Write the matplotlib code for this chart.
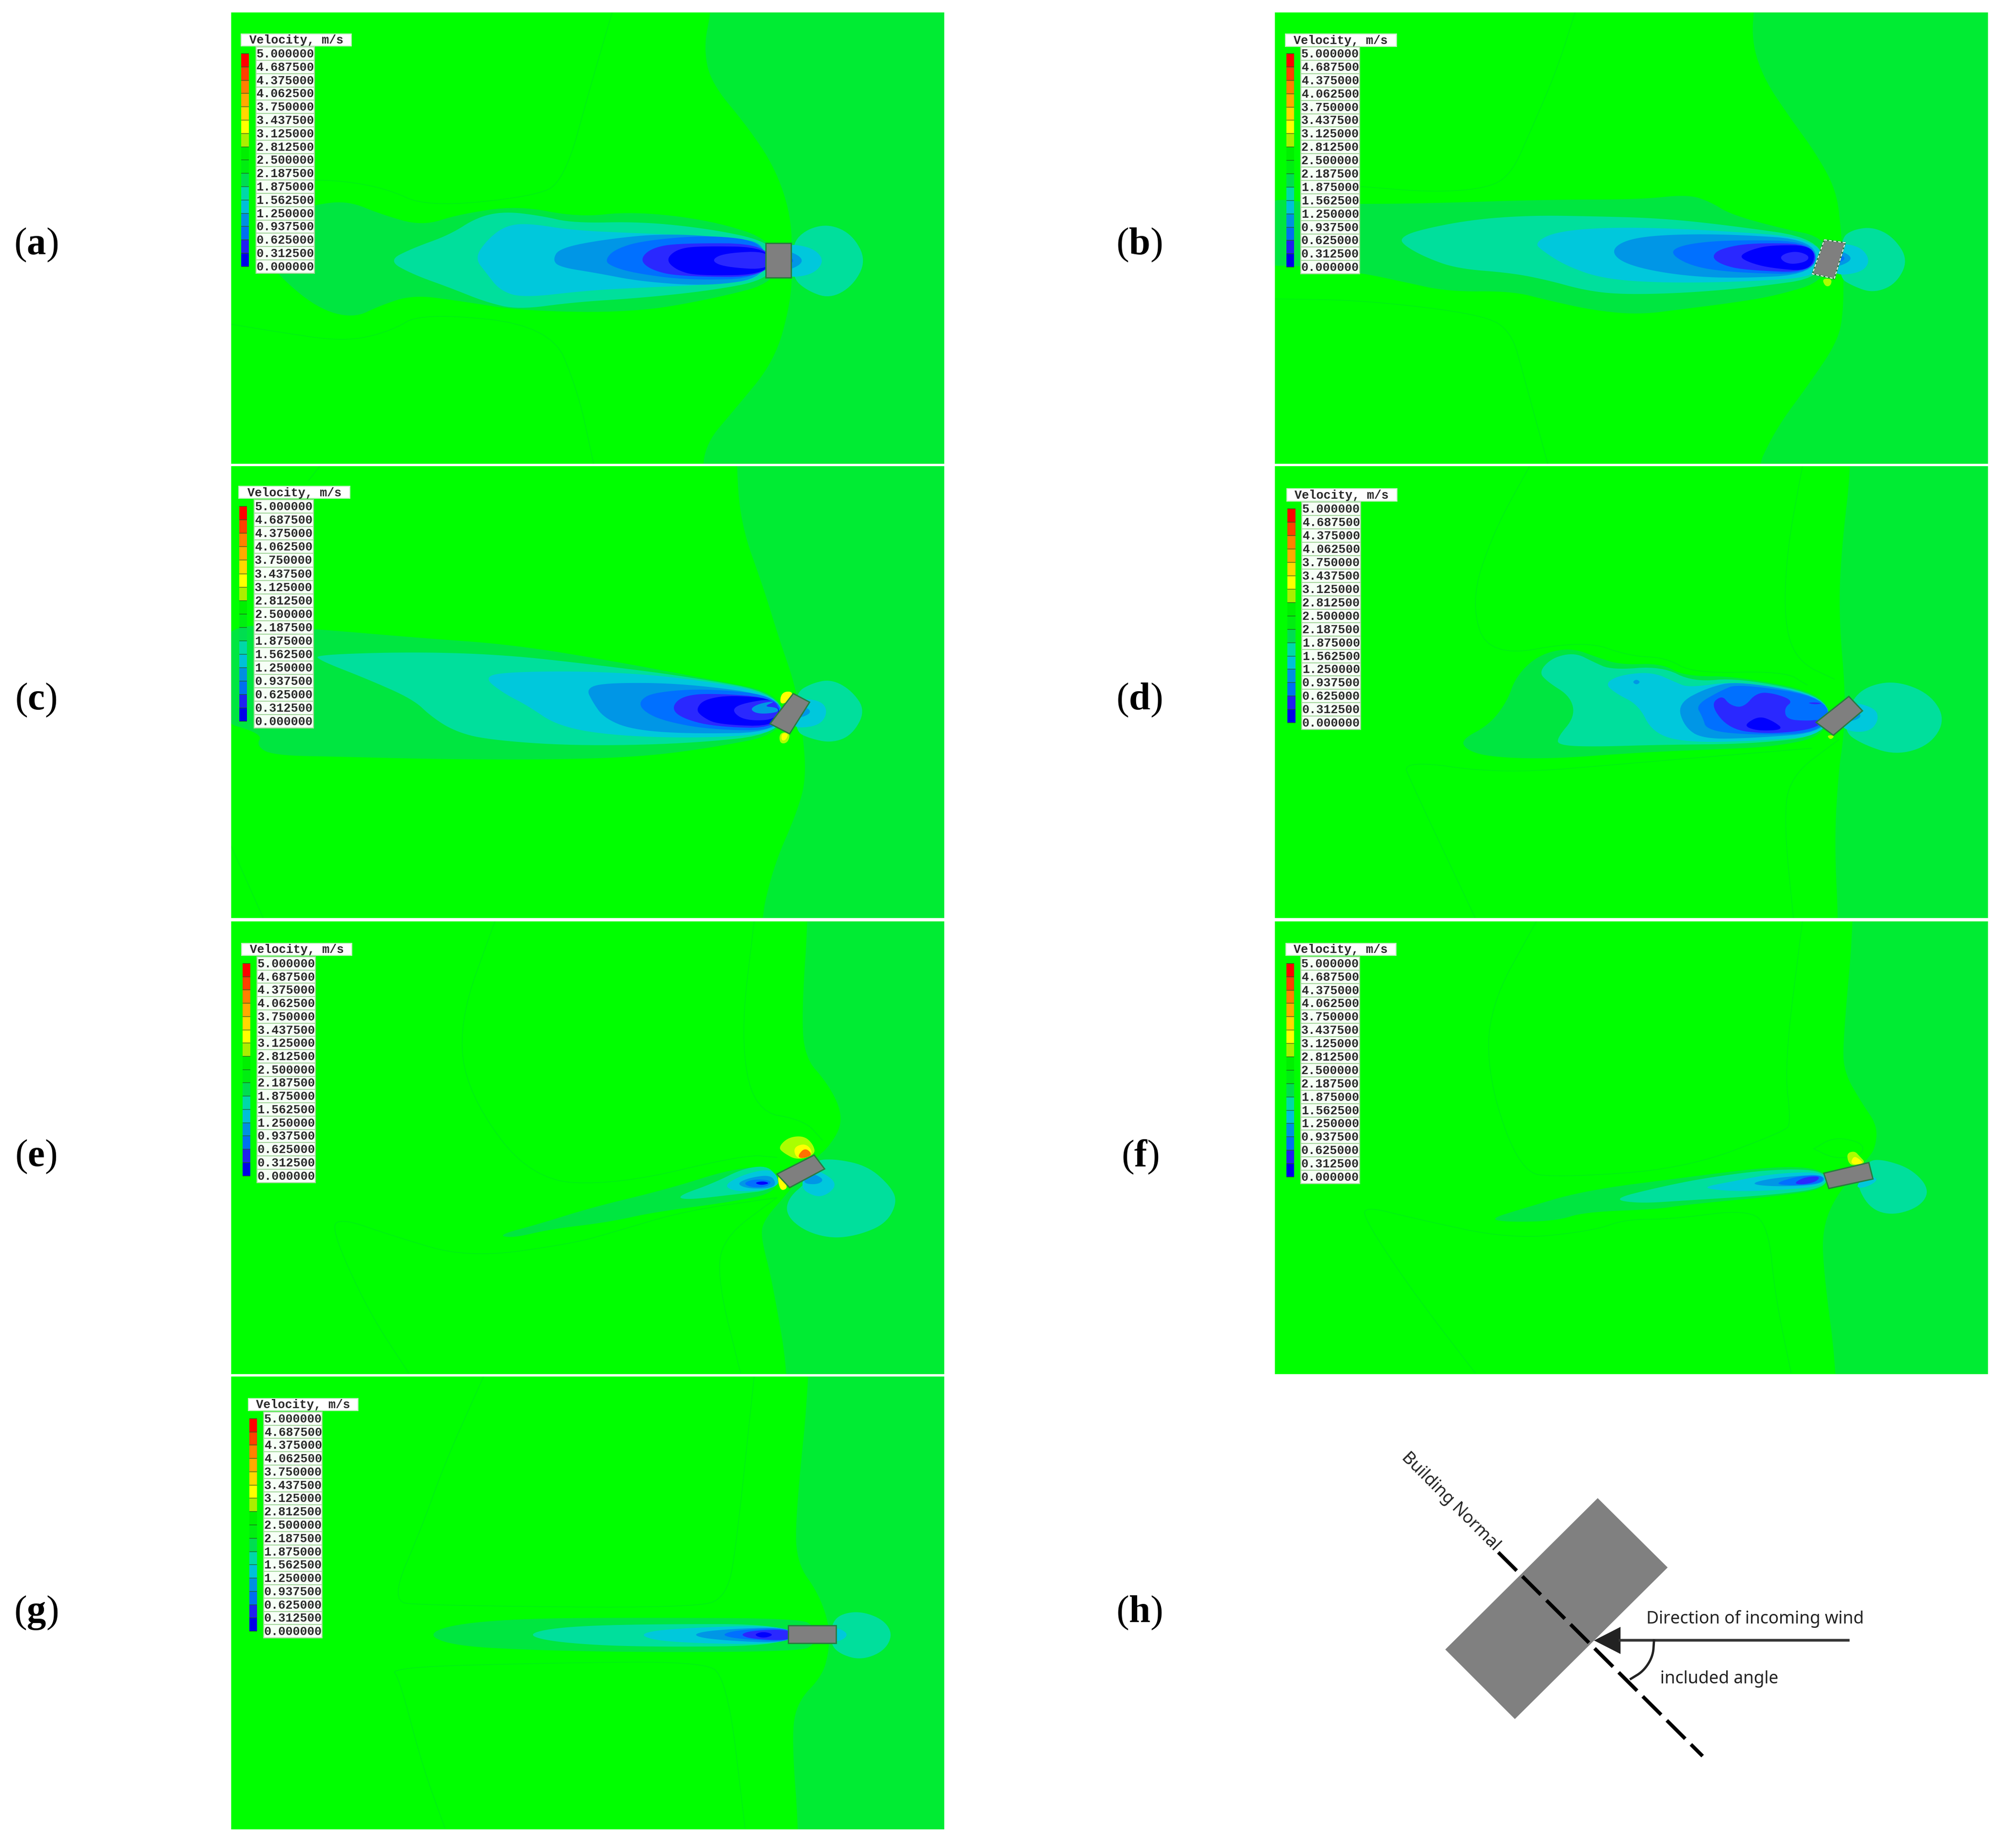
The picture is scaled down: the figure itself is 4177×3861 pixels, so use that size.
import matplotlib
matplotlib.use("Agg")
import numpy as np
import matplotlib.pyplot as plt
from matplotlib.colors import ListedColormap
from matplotlib.patches import Rectangle, Polygon

W, H = 4177, 3862

# contour colours
BG = "#00FF00"
G2 = "#00EC33"
G1 = "#00E640"
T = "#00DF9C"
C = "#00C8DC"
S = "#0096E6"
B = "#0070FF"
I = "#2A28FF"
D = "#0000FF"
LIME = "#AAFF00"
YEL = "#FFFF00"
AMB = "#FFC800"
ORG = "#FF7000"

LEGEND_VALUES = ["5.000000", "4.687500", "4.375000", "4.062500", "3.750000", "3.437500",
                 "3.125000", "2.812500", "2.500000", "2.187500", "1.875000", "1.562500",
                 "1.250000", "0.937500", "0.625000", "0.312500", "0.000000"]
LEGEND_COLORS = ["#FF0000", "#FF4000", "#FF8000", "#FFAA00", "#FFD800", "#FFFF00", "#AAEE00",
                 "#00F000", "#00EE10", "#00DD50", "#00D8A8", "#00C0D8", "#0090E0", "#0070F0",
                 "#2020F0", "#0000E8"]

# panel a, coordinates of the first crop
A_RIGHT = [(1050, -40), (1050, 11), (1035, 130), (1050, 250), (1130, 400), (1190, 540), (1225, 700), (1228, 860),
           (1225, 1000), (1190, 1200), (1100, 1370), (1040, 1480), (1030, 1600)]
A_BANDS = [
    (G1, [(1190, 790), (1050, 720), (880, 690), (760, 710), (630, 670), (500, 700), (420, 740), (330, 700), (260, 655),
          (190, 665), (130, 700), (60, 800), (100, 900), (190, 1020), (270, 1055), (330, 1010), (400, 975), (500, 995),
          (640, 1030), (880, 1035), (1050, 990), (1200, 930)]),
    (T, [(345, 858), (400, 815), (480, 770), (540, 710), (600, 690), (680, 705), (750, 730), (900, 725), (1050, 750),
         (1170, 790), (1200, 850), (1170, 925), (1050, 960), (900, 985), (750, 1000), (630, 1025), (560, 1000),
         (480, 950), (400, 905)]),
    (C, [(535, 850), (560, 790), (600, 740), (650, 730), (750, 755), (900, 765), (1050, 775), (1170, 800), (1170, 920),
         (1050, 940), (900, 950), (780, 960), (640, 985), (590, 960), (560, 900)]),
    (S, [(705, 855), (720, 815), (820, 785), (950, 765), (1100, 780), (1170, 800), (1170, 915), (1050, 945), (900, 930),
         (800, 900), (720, 880)]),
    (B, [(820, 855), (840, 820), (900, 790), (1050, 770), (1170, 795), (1170, 918), (1000, 925), (880, 900), (830, 875)]),
    (I, [(895, 855), (920, 815), (980, 798), (1180, 800), (1180, 915), (980, 912), (920, 890)]),
    (D, [(952, 855), (975, 820), (1020, 808), (1180, 812), (1180, 905), (1020, 910), (975, 890)]),
    (I, [(1050, 857), (1080, 832), (1180, 825), (1180, 890), (1080, 880)]),
    (T, [(1228, 800), (1260, 750), (1310, 733), (1360, 770), (1390, 858), (1360, 945), (1310, 988), (1260, 960), (1228, 915)]),
    (C, [(1200, 800), (1270, 810), (1300, 858), (1270, 910), (1200, 915)]),
    (S, [(1200, 810), (1265, 858), (1200, 905)]),
    (B, [(1200, 830), (1240, 858), (1200, 885)]),
]
A_BUILDING = [(1170, 798), (1226, 798), (1226, 916), (1170, 916)]
A_LINES = [[(835, 11), (790, 250), (730, 590), (660, 640), (430, 675), (340, 610), (220, 580), (100, 590)],
           [(3, 1075), (100, 1100), (250, 1135), (350, 1100), (420, 1035), (700, 1080), (760, 1300), (795, 1555)]]

# panel b
B_RIGHT = [(1055, -40), (1048, 100), (1075, 230), (1130, 360), (1190, 490), (1235, 620), (1245, 760), (1250, 880),
           (1250, 1050), (1235, 1150), (1170, 1300), (1100, 1450), (1050, 1620)]
B_BANDS = [
    (G1, [(-40, 640), (100, 665), (300, 665), (600, 650), (800, 650), (910, 632), (960, 660), (1000, 700), (1100, 745),
          (1220, 785), (1215, 930), (1100, 985), (1000, 1010), (900, 1030), (800, 1050), (700, 1035), (600, 1000),
          (520, 968), (380, 970), (280, 935), (190, 905), (60, 880), (-40, 880)]),
    (T, [(275, 785), (310, 758), (430, 720), (560, 705), (700, 708), (850, 715), (1000, 740), (1200, 785), (1210, 920),
         (1050, 955), (900, 975), (760, 980), (680, 965), (600, 930), (520, 905), (400, 890), (330, 850), (285, 810)]),
    (C, [(570, 800), (620, 760), (750, 745), (950, 755), (1200, 785), (1210, 915), (1050, 935), (850, 940), (720, 925),
         (640, 880), (590, 830)]),
    (S, [(738, 830), (770, 790), (850, 772), (1000, 770), (1190, 790), (1190, 910), (1000, 925), (870, 910), (770, 875)]),
    (B, [(865, 835), (900, 805), (1000, 790), (1190, 795), (1185, 910), (1020, 905), (920, 885)]),
    (I, [(960, 848), (980, 820), (1050, 800), (1190, 805), (1185, 905), (1030, 895), (980, 875)]),
    (D, [(1020, 848), (1045, 825), (1090, 808), (1190, 810), (1180, 900), (1090, 888), (1045, 870)]),
    (I, [(1110, 850), (1125, 835), (1150, 830), (1175, 845), (1170, 865), (1140, 875), (1120, 868)]),
    (T, [(1245, 785), (1270, 755), (1315, 745), (1360, 780), (1393, 860), (1365, 945), (1315, 975), (1270, 950), (1240, 920)]),
    (C, [(1225, 800), (1285, 810), (1310, 860), (1290, 905), (1220, 915)]),
    (S, [(1225, 815), (1280, 855), (1220, 895)]),
    (B, [(1225, 830), (1262, 855), (1220, 880)]),
    (LIME, [(1203, 925), (1225, 925), (1222, 950), (1210, 952)]),
]
B_BUILDING = [(1208, 790), (1254, 800), (1230, 925), (1182, 908)]
B_LINES = [[(660, 0), (620, 200), (560, 420), (520, 560), (470, 610), (350, 625), (190, 605)],
           [(0, 995), (200, 1000), (460, 1050), (520, 1110), (545, 1250), (600, 1568)]]

# panel c
C_RIGHT = [(1110, -40), (1120, 200), (1170, 420), (1205, 600), (1240, 760), (1255, 900), (1265, 1080), (1245, 1200),
           (1190, 1400), (1160, 1620)]
C_BANDS = [
    (G1, [(-40, 545), (180, 565), (400, 595), (620, 620), (850, 680), (1050, 740), (1210, 790), (1215, 930), (1050, 980),
          (900, 1010), (700, 1020), (450, 1018), (250, 1010), (90, 1005), (55, 970), (70, 930), (-40, 880)]),
    (T, [(190, 672), (190, 655), (400, 645), (600, 655), (800, 690), (1000, 730), (1210, 790), (1215, 930), (1000, 965),
         (750, 972), (560, 950), (490, 920), (440, 870), (400, 810), (300, 740)]),
    (C, [(555, 735), (600, 715), (800, 712), (1000, 735), (1210, 795), (1215, 925), (1050, 945), (850, 938), (720, 905),
         (650, 830), (600, 790)]),
    (S, [(780, 770), (830, 752), (1000, 755), (1210, 800), (1210, 925), (1000, 930), (880, 915), (820, 875), (795, 820)]),
    (B, [(897, 815), (930, 785), (1050, 772), (1210, 800), (1210, 920), (1050, 915), (950, 885), (905, 850)]),
    (I, [(968, 840), (990, 800), (1050, 788), (1205, 805), (1205, 912), (1060, 905), (990, 875)]),
    (D, [(1022, 845), (1040, 810), (1100, 795), (1205, 810), (1205, 905), (1070, 898), (1035, 870)]),
    (I, [(1100, 850), (1120, 825), (1200, 805), (1205, 880), (1130, 885)]),
    (S, [(1140, 845), (1160, 825), (1200, 815), (1170, 835), (1200, 838), (1205, 855), (1160, 862)]),
    (T, [(1240, 790), (1275, 755), (1320, 740), (1365, 780), (1395, 850), (1365, 935), (1320, 962), (1270, 945), (1240, 920)]),
    (C, [(1240, 805), (1300, 815), (1312, 860), (1290, 905), (1225, 910)]),
    (S, [(1240, 820), (1285, 855), (1230, 885)]),
    (YEL, [(1210, 785), (1236, 782), (1230, 815), (1206, 830)]),
    (LIME, [(1206, 925), (1230, 925), (1224, 962), (1206, 964)]),
    (YEL, [(1210, 928), (1226, 928), (1220, 952), (1210, 954)]),
]
C_BUILDING = [(1236, 790), (1272, 820), (1228, 930), (1185, 895)]
C_LINES = [[(195, 0), (170, 50)], [(0, 1320), (70, 1568)]]

# panel d
D_RIGHT = [(1270, -40), (1245, 300), (1240, 520), (1255, 800), (1250, 950), (1240, 1050), (1230, 1300), (1240, 1620)]
D_BANDS = [
    (G1, [(410, 950), (470, 900), (510, 820), (530, 730), (580, 655), (650, 630), (710, 665), (760, 690), (850, 685),
          (900, 730), (1020, 730), (1220, 795), (1215, 935), (1100, 975), (950, 985), (800, 995), (600, 1018), (470, 1010),
          (420, 985)]),
    (T, [(580, 715), (610, 665), (660, 648), (700, 680), (740, 708), (850, 695), (920, 750), (1020, 735), (1220, 800),
         (1215, 935), (1050, 965), (850, 968), (700, 975), (625, 970), (620, 945), (660, 870), (650, 800), (600, 750)]),
    (C, [(725, 755), (760, 725), (830, 715), (880, 750), (910, 770), (1020, 745), (1220, 800), (1215, 935), (1060, 955),
         (900, 960), (830, 925), (800, 830), (750, 790)]),
    (S, [(885, 825), (950, 770), (1020, 745), (1220, 805), (1215, 925), (1050, 945), (940, 948), (900, 905)]),
    (B, [(925, 830), (980, 780), (1020, 755), (1220, 805), (1210, 925), (1060, 935), (950, 920), (940, 870)]),
    (I, [(957, 830), (983, 795), (1000, 830), (1030, 840), (1060, 785), (1100, 790), (1140, 815), (1120, 840), (1125, 880),
         (1170, 885), (1200, 880), (1200, 900), (1160, 920), (1080, 930), (1000, 915)]),
    (D, [(1035, 895), (1065, 868), (1095, 885), (1120, 915), (1070, 920), (1040, 910)]),
    (I, [(1170, 822), (1190, 820), (1205, 825), (1185, 828)]),
    (S, [(786, 750), (795, 740), (804, 750), (795, 760)]),
    (T, [(1265, 820), (1300, 765), (1365, 745), (1440, 790), (1475, 880), (1440, 970), (1365, 1005), (1290, 965), (1250, 920)]),
    (C, [(1260, 815), (1320, 840), (1328, 880), (1310, 920), (1270, 925), (1240, 900)]),
    (S, [(1260, 830), (1298, 870), (1250, 895)]),
    (LIME, [(1213, 935), (1232, 935), (1222, 952)]),
]
D_BUILDING = [(1262, 800), (1292, 850), (1228, 935), (1190, 890)]
D_LINES = [[(560, 0), (480, 230), (430, 470), (470, 665), (680, 605), (780, 660), (860, 665), (920, 720), (1120, 712), (1170, 760)],
           [(1160, 0), (1125, 300), (1120, 550), (1150, 680), (1230, 740)],
           [(1240, 950), (1130, 1080), (1120, 1250), (1140, 1568)],
           [(440, 1568), (300, 1100), (280, 1020), (500, 1070), (800, 1030), (1180, 980)]]

# panel e
E_RIGHT = [(1270, -40), (1255, 300), (1260, 470), (1310, 560), (1340, 650), (1340, 720), (1310, 790), (1290, 815),
           (1220, 950), (1170, 1040), (1165, 1100), (1190, 1250), (1230, 1620)]
E_BANDS = [
    (G1, [(585, 1090), (680, 1050), (790, 995), (960, 930), (1100, 860), (1190, 850), (1205, 940), (1100, 975), (930, 1010),
          (830, 1045), (700, 1070), (620, 1100)]),
    (T, [(980, 955), (1060, 910), (1130, 855), (1190, 850), (1205, 930), (1100, 950), (1000, 968)]),
    (C, [(1080, 920), (1125, 880), (1180, 860), (1200, 880), (1205, 925), (1120, 942)]),
    (S, [(1110, 912), (1140, 890), (1190, 880), (1200, 925), (1140, 930)]),
    (B, [(1125, 910), (1150, 895), (1190, 900), (1180, 922), (1145, 925)]),
    (D, [(1150, 908), (1170, 902), (1185, 910), (1165, 917)]),
    (T, [(1280, 830), (1330, 825), (1400, 850), (1450, 920), (1465, 975), (1440, 1050), (1380, 1090), (1320, 1102), (1260, 1075),
         (1220, 1020), (1225, 960), (1270, 900)]),
    (C, [(1270, 850), (1320, 890), (1330, 920), (1310, 950), (1285, 958), (1250, 925)]),
    (S, [(1270, 870), (1305, 895), (1290, 915), (1255, 910)]),
    (LIME, [(1203, 785), (1225, 750), (1260, 745), (1280, 775), (1285, 810), (1245, 830), (1215, 805)]),
    (YEL, [(1235, 785), (1265, 770), (1282, 810), (1245, 830)]),
    (ORG, [(1245, 815), (1262, 785), (1280, 812), (1255, 825)]),
    (YEL, [(1203, 880), (1212, 895), (1225, 925), (1210, 937), (1203, 910)]),
]
E_BUILDING = [(1282, 812), (1305, 860), (1228, 925), (1200, 878)]
E_LINES = [[(580, 0), (500, 350), (520, 600), (660, 900), (850, 915), (1130, 810), (1200, 820)],
           [(1150, 0), (1120, 400), (1150, 660), (1260, 690), (1300, 760)],
           [(390, 1568), (300, 1350), (220, 1070), (240, 1030), (350, 1090), (520, 1170), (750, 1120), (850, 1075), (1000, 1005), (1200, 960)],
           [(1200, 960), (1080, 1100), (1070, 1250), (1120, 1568)]]

# panel f
F_RIGHT = [(1275, -40), (1250, 400), (1250, 520), (1290, 630), (1325, 710), (1320, 790), (1300, 830), (1235, 950),
           (1205, 1060), (1205, 1200), (1240, 1620)]
F_BANDS = [
    (G1, [(470, 1035), (540, 1000), (680, 935), (900, 890), (1100, 850), (1210, 860), (1215, 930), (1100, 955), (900, 985),
          (840, 1000), (680, 1010), (620, 1040), (520, 1045)]),
    (T, [(740, 965), (840, 925), (950, 890), (1100, 860), (1210, 865), (1215, 925), (1100, 950), (900, 970), (800, 980)]),
    (C, [(935, 925), (1000, 905), (1100, 875), (1210, 870), (1210, 920), (1100, 935), (1000, 938)]),
    (S, [(1040, 912), (1100, 890), (1210, 878), (1205, 915), (1100, 922)]),
    (B, [(1095, 912), (1150, 885), (1205, 880), (1205, 910), (1140, 918)]),
    (I, [(1140, 910), (1165, 888), (1200, 885), (1190, 905), (1160, 915)]),
    (T, [(1305, 830), (1340, 828), (1400, 860), (1440, 930), (1420, 990), (1360, 1022), (1310, 1000), (1280, 920), (1290, 880)]),
    (C, [(1300, 880), (1330, 895), (1300, 925), (1275, 925)]),
    (LIME, [(1260, 835), (1258, 805), (1275, 798), (1285, 815), (1300, 840), (1270, 850)]),
    (YEL, [(1265, 845), (1272, 815), (1285, 825), (1295, 842)]),
]
F_BUILDING = [(1207, 875), (1306, 838), (1315, 895), (1218, 928)]
F_LINES = [[(575, 0), (470, 300), (470, 560), (540, 870), (620, 890), (900, 860), (1120, 730), (1135, 700), (1120, 500), (1160, 0)],
           [(440, 1568), (300, 1280), (195, 1030), (200, 990), (300, 1030), (520, 1105), (700, 1075), (770, 1035), (870, 1035), (1040, 1000),
            (1085, 1060), (1100, 1300), (1135, 1568)],
           [(1185, 790), (1230, 748), (1295, 770), (1290, 815), (1230, 825), (1185, 790)]]

# panel g
G_RIGHT = [(1275, -40), (1240, 500), (1245, 650), (1290, 750), (1315, 860), (1315, 950), (1300, 1040), (1245, 1130),
           (1232, 1250), (1250, 1620)]
G_BANDS = [
    (G1, [(430, 897), (490, 860), (650, 840), (900, 838), (1250, 840), (1285, 870), (1285, 930), (1250, 955), (900, 958),
          (650, 950), (490, 935)]),
    (T, [(645, 897), (720, 870), (900, 860), (1230, 860), (1230, 935), (900, 940), (720, 925)]),
    (C, [(890, 897), (960, 875), (1235, 862), (1235, 932), (960, 925)]),
    (S, [(1010, 897), (1060, 880), (1235, 868), (1235, 928), (1060, 915)]),
    (B, [(1075, 897), (1115, 880), (1235, 872), (1235, 922), (1115, 912)]),
    (I, [(1118, 897), (1145, 882), (1235, 878), (1235, 918), (1145, 912)]),
    (D, [(1148, 897), (1170, 885), (1195, 897), (1170, 910)]),
    (T, [(1320, 860), (1340, 825), (1385, 815), (1435, 845), (1455, 897), (1435, 955), (1385, 985), (1340, 965), (1318, 930)]),
    (C, [(1320, 870), (1345, 880), (1356, 897), (1345, 915), (1320, 925)]),
]
G_BUILDING = [(1225, 865), (1330, 865), (1330, 927), (1225, 927)]
G_LINES = [[(555, 0), (470, 300), (420, 520), (350, 780), (420, 795), (1030, 805), (1090, 760), (1110, 600), (1150, 0)],
           [(470, 1568), (420, 1350), (370, 1050), (350, 1010), (700, 995), (1030, 990), (1090, 1040), (1130, 1568)]]

# legend boxes: title x0, x1, y0, y1, bar x0, x1, rows x0, x1, first row y, last row y
A_LEGEND = (25, 265, 85, 125, 25, 42, 57, 185, 152, 878)
B_LEGEND = (23, 267, 75, 118, 25, 42, 57, 186, 143, 885)
C_LEGEND = (17, 261, 70, 112, 18, 35, 50, 181, 140, 887)
D_LEGEND = (26, 268, 78, 122, 27, 45, 59, 188, 148, 892)
E_LEGEND = (23, 265, 76, 118, 25, 42, 57, 185, 146, 884)
F_LEGEND = (24, 266, 76, 118, 25, 42, 57, 186, 146, 888)
G_LEGEND = (38, 279, 76, 118, 40, 57, 72, 200, 146, 885)


def chaikin(pts, closed=True, n=3):
    p = np.array(pts, dtype=float)
    for _ in range(n):
        q = np.roll(p, -1, axis=0) if closed else p[1:]
        a = p if closed else p[:-1]
        cut = np.empty((len(a) * 2, 2))
        cut[0::2] = 0.75 * a + 0.25 * q
        cut[1::2] = 0.25 * a + 0.75 * q
        p = cut if closed else np.vstack([p[0], cut, p[-1]])
    return p


def draw_legend(ax, pos):
    tx0, tx1, ty0, ty1, bx0, bx1, rx0, rx1, first, last = pos
    ys = np.linspace(first, last, len(LEGEND_VALUES))
    step = ys[1] - ys[0]
    cmap = ListedColormap(LEGEND_COLORS)
    cells = np.arange(len(LEGEND_COLORS)).reshape(-1, 1)
    ax.pcolormesh([bx0, bx1], ys, cells, cmap=cmap, vmin=-0.5, vmax=len(LEGEND_COLORS) - 0.5, zorder=6)
    ax.hlines(ys, bx0, bx1, color="#1F5A1F", lw=1.4, alpha=0.6, zorder=7)
    ax.add_patch(Rectangle((tx0, ty0), tx1 - tx0, ty1 - ty0, fc="white", ec="#C8F0C8", lw=1.5, zorder=6))
    ax.text((tx0 + tx1) / 2, (ty0 + ty1) / 2, "Velocity, m/s", ha="center", va="center", color="#2A2A2A",
            family="Liberation Mono", weight="bold", fontsize=18.2, zorder=8)
    for y, lab in zip(ys, LEGEND_VALUES):
        ax.add_patch(Rectangle((rx0, y - step / 2), rx1 - rx0, step, fc="#F6FFF6", ec="#A8D8A0", lw=1.5, zorder=6))
        ax.text((rx0 + rx1) / 2, y, lab, ha="center", va="center", color="#2A2A2A",
                family="Liberation Mono", weight="bold", fontsize=18.2, zorder=8)


def draw_panel(box, xlim, ylim, right, bands, building, lines, legend, dashed=False):
    x, y, w, h = box
    ax = fig.add_axes([x / W, 1 - (y + h) / H, w / W, h / H])
    ax.set_xlim(*xlim)
    ax.set_ylim(*ylim)
    ax.axis("off")
    ax.add_patch(Rectangle((xlim[0], ylim[1]), xlim[1] - xlim[0], ylim[0] - ylim[1], fc=BG, ec="none", zorder=0))
    # carry the boundary far outside the panel so the smoothing only rounds clipped corners
    region = [(4000, -800), (right[0][0], -800)] + right + [(right[-1][0], 2400), (4000, 2400)]
    ax.fill(*chaikin(region).T, color=G2, lw=0, zorder=1)
    for line in lines:
        ax.plot(*chaikin(line, closed=False).T, color="#00F012", lw=1.2, zorder=2)
    for color, pts in bands:
        ax.fill(*chaikin(pts).T, color=color, lw=0, zorder=3)
    ax.add_patch(Polygon(building, closed=True, fc="#7F7F7F", ec="#2A7A40", lw=2, zorder=5))
    if dashed:
        ax.add_patch(Polygon(building, closed=True, fc="none", ec="white", lw=1.4, ls=(0, (3, 2)), zorder=5))
    draw_legend(ax, legend)
    return ax


plt.rcParams["mathtext.fontset"] = "custom"
plt.rcParams["mathtext.bf"] = "Liberation Serif:bold"

fig = plt.figure(figsize=(W / 100, H / 100), dpi=100, facecolor="white")

draw_panel((483, 27, 1490, 943), (3, 1560), (1551, 11.4), A_RIGHT, A_BANDS, A_BUILDING, A_LINES, A_LEGEND)
draw_panel((2664, 27, 1490, 943), (0, 1568), (1568, 0), B_RIGHT, B_BANDS, B_BUILDING, B_LINES, B_LEGEND, dashed=True)
draw_panel((483, 975, 1490, 944), (0, 1568), (1570, 0), C_RIGHT, C_BANDS, C_BUILDING, C_LINES, C_LEGEND)
draw_panel((2664, 975, 1490, 944), (0, 1568), (1570, 0), D_RIGHT, D_BANDS, D_BUILDING, D_LINES, D_LEGEND)
draw_panel((483, 1926, 1490, 946), (0, 1568), (1573, 0), E_RIGHT, E_BANDS, E_BUILDING, E_LINES, E_LEGEND)
draw_panel((2664, 1926, 1490, 946), (0, 1568), (1573, 0), F_RIGHT, F_BANDS, F_BUILDING, F_LINES, F_LEGEND)
draw_panel((483, 2877, 1490, 946), (0, 1568), (1573, 0), G_RIGHT, G_BANDS, G_BUILDING, G_LINES, G_LEGEND)

# panel h sketch, coordinates of its crop
H_BUILDING = [(700, 320), (890, 627), (475, 1298), (286, 990)]
H_NORMAL = [(430, 560), (985, 1462)]
H_WIND = [(760, 950), (1380, 950)]
H_HEAD = [(690, 950), (762, 890), (762, 1010)]
H_ARC = [(853, 950), (850, 1020), (825, 1085), (790, 1120)]

axh = fig.add_axes([2800 / W, 1 - (2980 + 740) / H, 1200 / W, 740 / H])
axh.set_xlim(0, 1560)
axh.set_ylim(1568, 0)
axh.axis("off")
axh.add_patch(Polygon(H_BUILDING, closed=True, fc="#808080", ec="none"))
xs, ys = zip(*H_NORMAL)
axh.plot(xs, ys, color="black", lw=5.5, dashes=(7.1, 2.2), dash_capstyle="butt")
xs, ys = zip(*H_WIND)
axh.plot(xs, ys, color="#333333", lw=4)
axh.add_patch(Polygon(H_HEAD, closed=True, fc="#222222", ec="none"))
axh.plot(*chaikin(H_ARC, closed=False).T, color="#222222", lw=3.5)
axh.text(1128, 852, "Direction of incoming wind", ha="center", va="center", family="Noto Sans", fontsize=25.8, color="#222222")
axh.text(1030, 1118, "included angle", ha="center", va="center", family="Noto Sans", fontsize=25.8, color="#222222")
axh.text(300, 333, "Building Normal", ha="center", va="center", rotation=-45, rotation_mode="anchor",
         family="Noto Sans", fontsize=25.8, color="#222222")

# panel letters
LETTERS = ["a", "b", "c", "d", "e", "f", "g", "h"]
LETTER_X = [75, 2380, 75, 2380, 75, 2382, 75, 2380]
LETTER_Y = [512, 512, 1463, 1463, 2417, 2417, 3370, 3370]
for let, lx, ly in zip(LETTERS, LETTER_X, LETTER_Y):
    fig.text(lx / W, 1 - ly / H, f"($\\mathbf{{{let}}}$)", ha="center", va="center",
             family="Liberation Serif", fontsize=58, color="black")

fig.savefig("out.png", dpi=100, facecolor="white")
plt.close(fig)
